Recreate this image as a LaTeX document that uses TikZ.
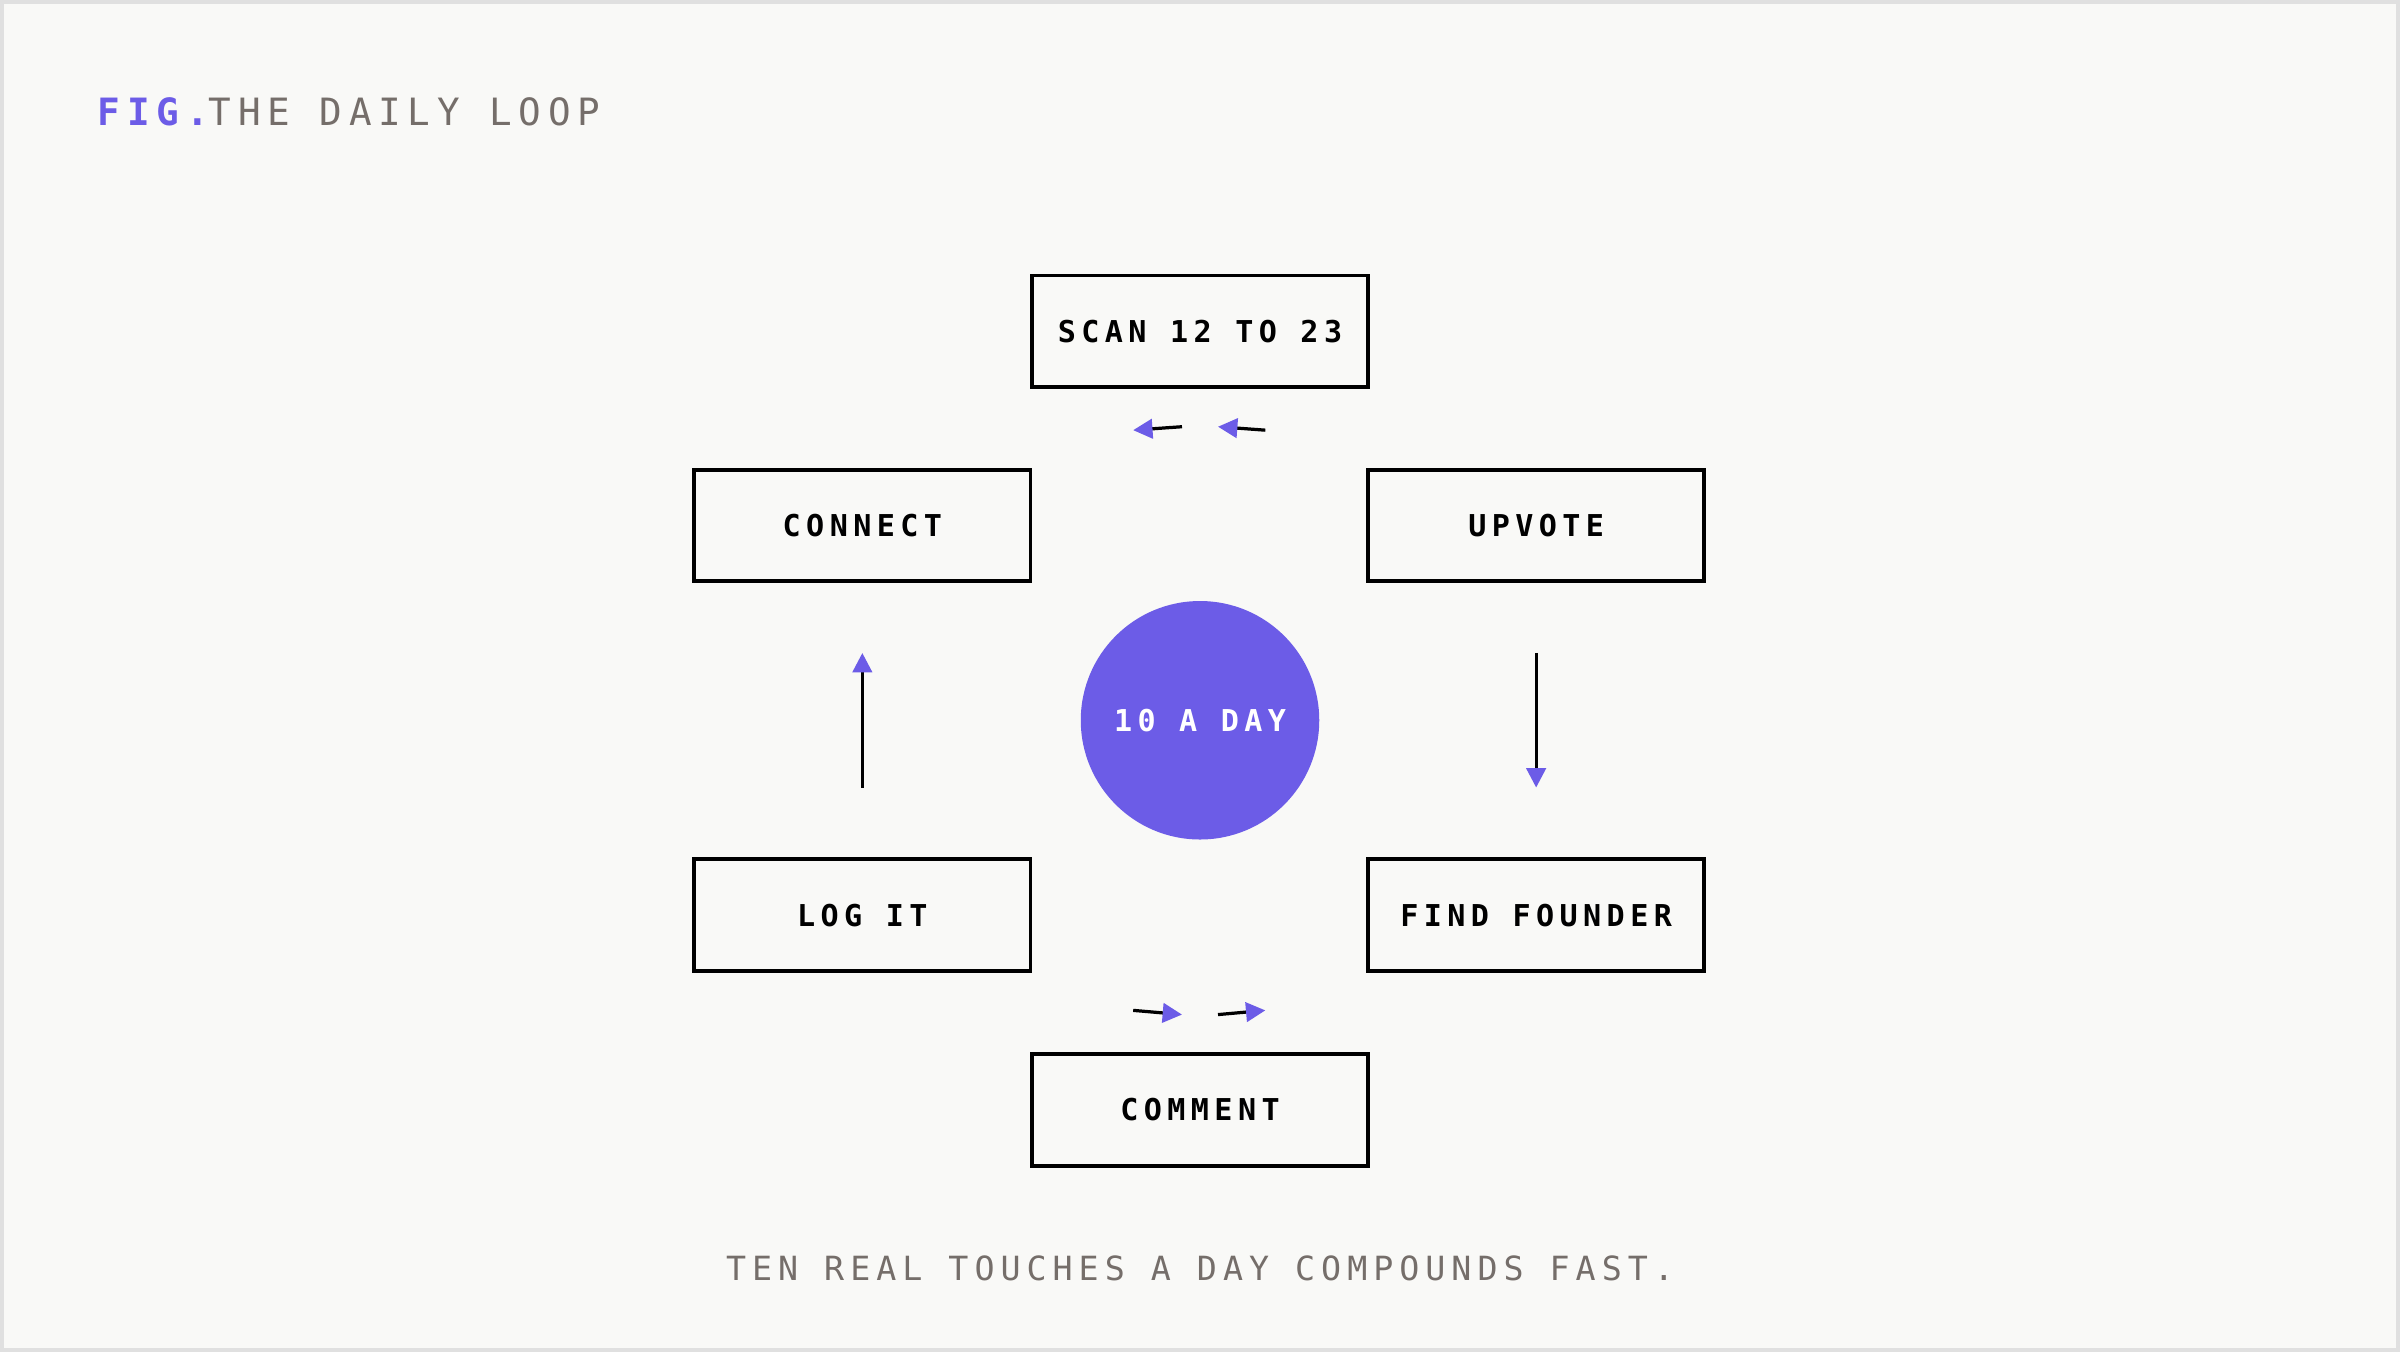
\documentclass[tikz,border=0pt]{standalone}
\usepackage{fontspec}
\setmonofont{DejaVu Sans Mono}
\newfontfamily\spaced[LetterSpace=18]{DejaVu Sans Mono}
\usetikzlibrary{arrows.meta}
\definecolor{loopviolet}{HTML}{6C5CE7}
\definecolor{inkgray}{HTML}{756E6A}
\definecolor{paper}{HTML}{F9F9F7}
\tikzset{
  stepbox/.style={draw=black, line width=0.7pt, fill=paper, minimum width=2.2cm, minimum height=0.73cm, font=\spaced\bfseries\fontsize{5.6}{6}\selectfont},
  flow/.style={draw=black, line width=0.6pt, -{Triangle[color=loopviolet, length=3.6pt, width=3.6pt]}},
}
\begin{document}
\begin{tikzpicture}[x=0.01cm, y=-0.01cm]
  \fill[paper, draw=black!12, line width=0.8pt] (0,0) rectangle (1568,882);
  \useasboundingbox (0,0) rectangle (1568,882);
  \node[anchor=west, inner sep=0, font=\spaced\fontsize{7}{8}\selectfont] (title) at (62,72)
    {\textcolor{loopviolet}{\bfseries FIG.}\textcolor{inkgray}{ THE DAILY LOOP}};

  \node[stepbox] (scan) at (784,215.5) {SCAN 12 TO 23};
  \node[stepbox] (connect) at (563,342.5) {CONNECT};
  \node[stepbox] (upvote) at (1004,342.5) {UPVOTE};
  \node[stepbox] (logit) at (563,597.5) {LOG IT};
  \node[stepbox] (founder) at (1004,597.5) {FIND FOUNDER};
  \node[stepbox] (comment) at (784,725) {COMMENT};
  \node[circle, fill=loopviolet, minimum size=1.56cm, inner sep=0, text=white,
    font=\spaced\bfseries\fontsize{5.6}{6}\selectfont] (hub) at (784,470) {10 A DAY};

  \draw[flow] ([xshift=-35,yshift=-7]scan.south east) -- ([xshift=-75,yshift=7]upvote.north);
  \draw[flow] ([yshift=-13]upvote.south) -- ([yshift=13]founder.north);
  \draw[flow] ([xshift=-75,yshift=-7]founder.south) -- ([xshift=-35,yshift=7]comment.north east);
  \draw[flow] ([xshift=35,yshift=7]comment.north west) -- ([xshift=75,yshift=-7]logit.south);
  \draw[flow] ([yshift=13]logit.north) -- ([yshift=-13]connect.south);
  \draw[flow] ([xshift=75,yshift=7]connect.north) -- ([xshift=35,yshift=-7]scan.south west);

  \node[text=inkgray, font=\spaced\fontsize{6.2}{7}\selectfont] (caption) at (784,829)
    {TEN REAL TOUCHES A DAY COMPOUNDS FAST.};
\end{tikzpicture}
\end{document}
